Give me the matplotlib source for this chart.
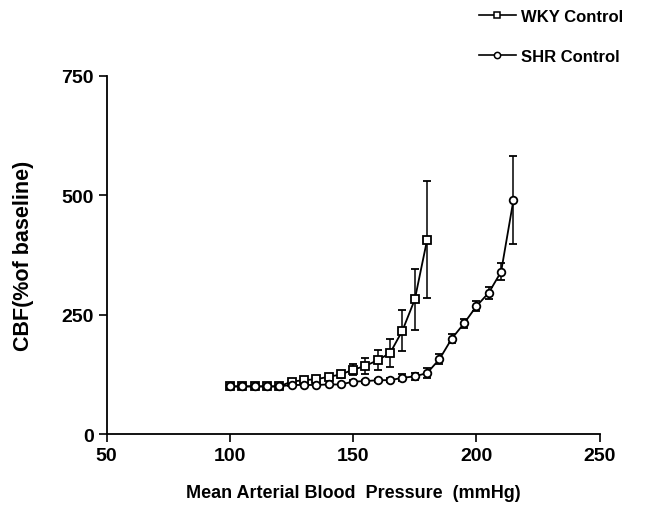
import numpy as np
import matplotlib
matplotlib.use('Agg')
import matplotlib.pyplot as plt
from matplotlib.lines import Line2D

# Data
wky_map = [100, 105, 110, 115, 120, 125, 130, 135, 140, 145, 150, 155, 160, 165, 170, 175, 180]
wky_cbf = [100, 100, 100, 100, 100, 110, 113, 115, 120, 125, 135, 143, 155, 170, 217, 282, 407]
wky_sem = [0, 0, 0, 0, 0, 3, 3, 4, 6, 8, 12, 17, 21, 30, 42, 64, 122]

shr_map = [100, 105, 110, 115, 120, 125, 130, 135, 140, 145, 150, 155, 160, 165, 170, 175,
           180, 185, 190, 195, 200, 205, 210, 215]
shr_cbf = [100, 100, 100, 100, 100, 103, 103, 103, 104, 104, 110, 111, 113, 113, 118, 121,
           128, 157, 200, 232, 268, 296, 340, 490]
shr_sem = [0, 0, 0, 0, 0, 2, 2, 2, 2, 2, 3, 3, 3, 4, 7, 7, 10, 10, 9, 9, 10, 12, 18, 92]

x_ticks = [50, 100, 150, 200, 250]
y_ticks = [0, 250, 500, 750]

plt.rcParams['font.family'] = ['Liberation Sans', 'DejaVu Sans']
plt.rcParams['font.weight'] = 'bold'

fig = plt.figure(figsize=(6.54, 5.06), dpi=100)
ax = fig.add_axes([0.163, 0.14, 0.754, 0.708])

ax.errorbar(wky_map, wky_cbf, yerr=wky_sem, color='black', lw=1.3, elinewidth=1.1,
            capsize=3, capthick=1.1, marker='s', markersize=5.5, mfc='white', mec='black',
            mew=1.3, zorder=3)
ax.errorbar(shr_map, shr_cbf, yerr=shr_sem, color='black', lw=1.3, elinewidth=1.1,
            capsize=3, capthick=1.1, marker='o', markersize=5.5, mfc='white', mec='black',
            mew=1.3, zorder=4)

ax.set_xlim(50, 250)
ax.set_ylim(0, 750)
ax.set_xticks(x_ticks)
ax.set_yticks(y_ticks)
ax.spines['top'].set_visible(False)
ax.spines['right'].set_visible(False)
ax.spines['left'].set_linewidth(1.3)
ax.spines['bottom'].set_linewidth(1.3)
ax.tick_params(direction='out', length=6, width=1.2, labelsize=14, pad=3)
for lab in ax.get_xticklabels() + ax.get_yticklabels():
    lab.set_fontweight('bold')

ax.set_xlabel('Mean Arterial Blood  Pressure  (mmHg)', fontsize=13, fontweight='bold', labelpad=15)
ax.set_ylabel('CBF(%of baseline)', fontsize=15.5, fontweight='bold', labelpad=20)

handles = [Line2D([], [], color='black', lw=1.2, marker='s', markersize=5, mfc='white', mec='black', mew=1.1),
           Line2D([], [], color='black', lw=1.2, marker='o', markersize=4.5, mfc='white', mec='black', mew=1.1)]
labels = ['WKY Control', 'SHR Control']
fig.legend(handles, labels, loc='upper right', bbox_to_anchor=(0.975, 1.01),
           frameon=False, handlelength=2.2, handletextpad=0.3, labelspacing=1.5,
           prop={'weight': 'bold', 'size': 12})

fig.savefig('out.png', dpi=100)
